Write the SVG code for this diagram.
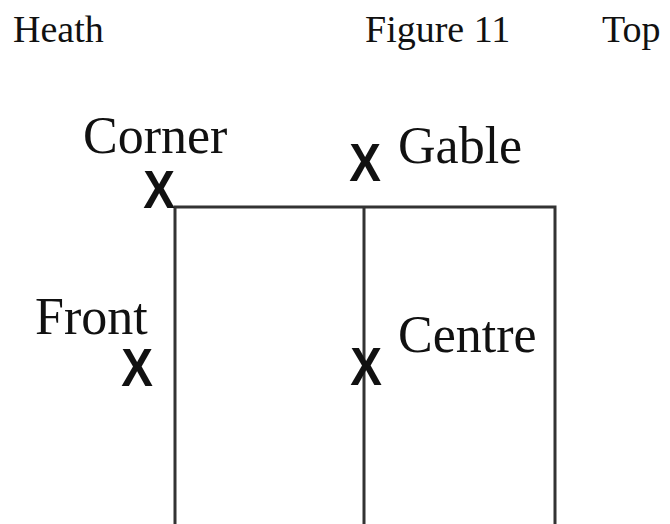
<svg xmlns="http://www.w3.org/2000/svg" width="670" height="524" viewBox="0 0 670 524">
<style>
.hdr{font-family:"Liberation Serif","Times New Roman",serif;font-size:38px;fill:#111}
.lbl{font-family:"Liberation Serif","Times New Roman",serif;font-size:52px;fill:#111}
.mark{font-family:"Liberation Sans",Arial,sans-serif;font-weight:bold;font-size:54px;fill:#111;text-anchor:middle}
.wall{stroke:#333;stroke-width:3;fill:none}
</style>
<rect width="670" height="524" fill="#fff"/>
<g id="header">
<text class="hdr" x="13" y="42">Heath</text>
<text class="hdr" x="365" y="42">Figure 11</text>
<text class="hdr" x="602" y="42">Top</text>
</g>
<g id="connectors">
<path class="wall" d="M175,530 V207 H555 V530"/>
<path class="wall" d="M364,207 V530"/>
</g>
<g id="corner">
<text class="mark" transform="translate(159,208) scale(0.88,1)">X</text>
<text class="lbl" x="83" y="153">Corner</text>
</g>
<g id="gable">
<text class="mark" transform="translate(365,181) scale(0.88,1)">X</text>
<text class="lbl" x="398" y="163">Gable</text>
</g>
<g id="front">
<text class="mark" transform="translate(137,386) scale(0.88,1)">X</text>
<text class="lbl" x="35" y="334">Front</text>
</g>
<g id="centre">
<text class="mark" transform="translate(366,385) scale(0.88,1)">X</text>
<text class="lbl" x="398" y="352">Centre</text>
</g>
</svg>
